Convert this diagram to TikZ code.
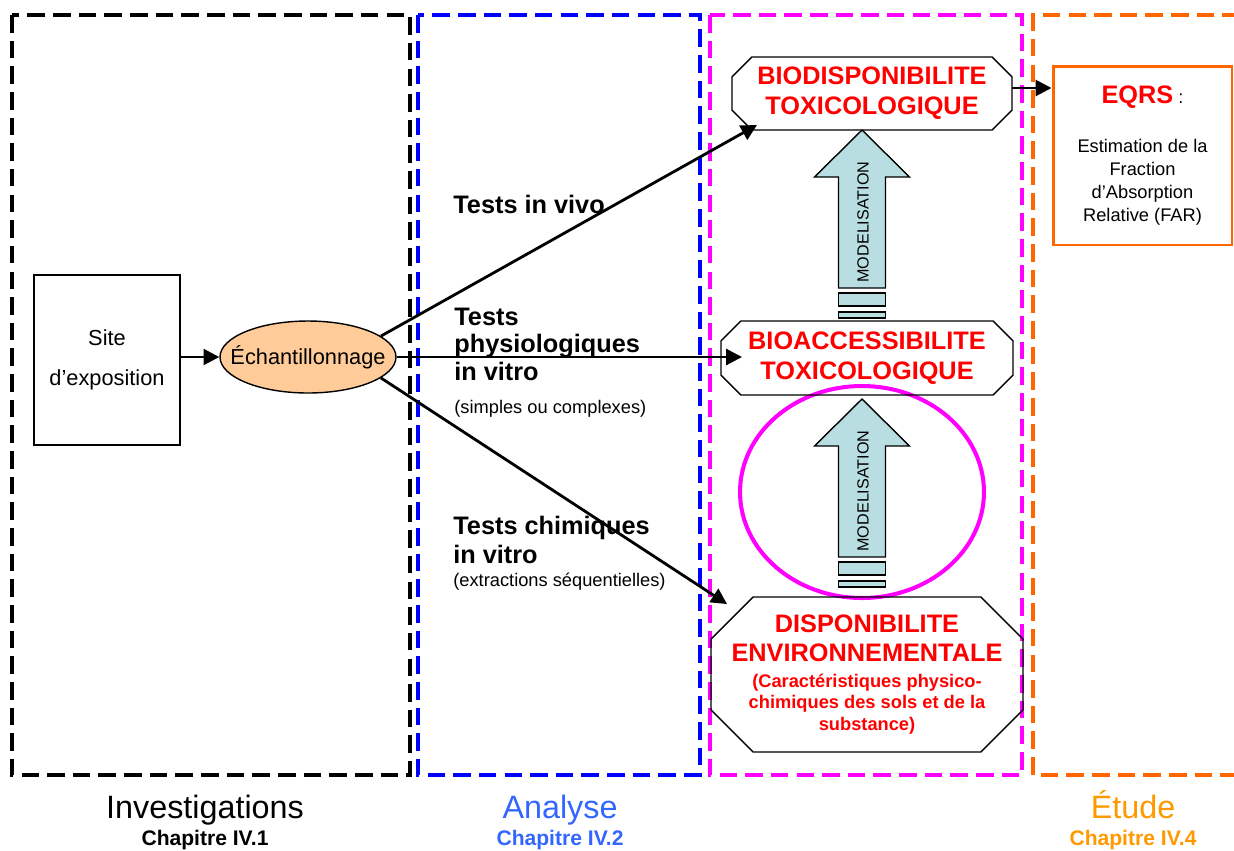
\documentclass[tikz,border=0pt]{standalone}
\usepackage{fontspec}
\setmainfont{Liberation Sans}
\usetikzlibrary{arrows.meta,shapes.geometric,calc}

\definecolor{zbleu}{RGB}{0,0,255}
\definecolor{zmagenta}{RGB}{255,0,255}
\definecolor{zorange}{RGB}{255,102,0}
\definecolor{tbleu}{RGB}{51,102,255}
\definecolor{torange}{RGB}{255,153,0}
\definecolor{peche}{RGB}{255,204,153}
\definecolor{modbleu}{RGB}{185,222,226}

\newcommand{\grand}{\fontsize{14.4}{17}\selectfont\bfseries}
\newcommand{\petit}{\fontsize{10.4}{13}\selectfont}

% contour octogonal autour d'un noeud
\newcommand{\octo}[2]{%
  \draw[line width=0.8pt] ([xshift=#2]#1.north west) -- ([xshift=-#2]#1.north east)
    -- ([yshift=-#2]#1.north east) -- ([yshift=#2]#1.south east)
    -- ([xshift=-#2]#1.south east) -- ([xshift=#2]#1.south west)
    -- ([yshift=#2]#1.south west) -- ([yshift=-#2]#1.north west) -- cycle;}

% grosse fleche MODELISATION (pointe en #2)
\newcommand{\modele}[2]{%
  \begin{scope}[shift={(#2)}, line width=0.8pt]
    \draw[fill=modbleu] (0,0) -- (47.5,47) -- (23.5,47) -- (23.5,158)
      -- (-23.5,158) -- (-23.5,47) -- (-47.5,47) -- cycle;
    \draw[fill=modbleu] (-23.5,163) rectangle (23.5,176);
    \draw[fill=modbleu] (-23.5,182) rectangle (23.5,188);
    \node[rotate=90, font=\fontsize{9.2}{11}\selectfont] (#1) at (1,92) {MODELISATION};
  \end{scope}}

\begin{document}
\begin{tikzpicture}[x=0.02cm, y=-0.02cm, >={Triangle[length=9pt,width=9pt]},
    zone/.style={line width=2.3pt, dash pattern=on 10pt off 4.6pt},
    flux/.style={->, line width=1.6pt},
    titre/.style={text=red, font=\grand, align=center, outer sep=0pt},
    test/.style={anchor=base west, align=left, font=\grand, inner sep=0pt}]

    \useasboundingbox (0,0) rectangle (1234,850);

    % zones
    \draw[zone] (12,15) rectangle (410,775);
    \draw[zone, zbleu] (418,15) rectangle (700,775);
    \draw[zone, zmagenta] (710,15) rectangle (1022,775);
    \draw[zone, zorange] (1240,15) -- (1033,15) -- (1033,775) -- (1240,775);

    % titres des zones
    \node[anchor=base, font=\fontsize{18.4}{22}\selectfont] (inv) at (205,818) {Investigations};
    \node[anchor=base, font=\fontsize{12}{14}\selectfont\bfseries] (invch) at (205,845) {Chapitre IV.1};
    \node[anchor=base, text=tbleu, font=\fontsize{18.4}{22}\selectfont] (ana) at (560,818) {Analyse};
    \node[anchor=base, text=tbleu, font=\fontsize{12}{14}\selectfont\bfseries] (anach) at (560,845) {Chapitre IV.2};
    \node[anchor=base, text=torange, font=\fontsize{18.4}{22}\selectfont] (etu) at (1133,818) {Étude};
    \node[anchor=base, text=torange, font=\fontsize{12}{14}\selectfont\bfseries] (etuch) at (1133,845) {Chapitre IV.4};

    % ellipse magenta
    \draw[zmagenta, line width=2.3pt] (862,492) ellipse [x radius=2.44cm, y radius=2.12cm];

    % noeuds
    \node[draw, line width=0.8pt, minimum width=2.92cm, minimum height=3.4cm, align=center,
          font=\fontsize{12.4}{22.7}\selectfont] (site) at (107,360) {Site\\d’exposition};
    \node[draw, ellipse, fill=peche, line width=0.8pt, minimum width=3.52cm, minimum height=1.44cm,
          inner xsep=-0.32cm, inner ysep=0pt, font=\fontsize{12.4}{15}\selectfont] (ech) at (308,357) {Échantillonnage};
    \node[titre, minimum width=5.6cm, minimum height=1.46cm] (bio) at (872,93.5)
          {BIODISPONIBILITE\\TOXICOLOGIQUE};
    \node[titre, minimum width=5.84cm, minimum height=1.48cm] (bac) at (867,358)
          {BIOACCESSIBILITE\\TOXICOLOGIQUE};
    \node[titre, minimum width=6.24cm, minimum height=3.1cm] (dis) at (867,674.5)
          {DISPONIBILITE\\ENVIRONNEMENTALE\\[-2.3pt]\petit (Caractéristiques physico-\\[-5pt]
           \petit chimiques des sols et de la\\[-4.5pt]\petit substance)};
    \octo{bio}{11.3pt}
    \octo{bac}{11.3pt}
    \octo{dis}{24pt}
    \node[draw=zorange, line width=1.7pt, minimum width=3.58cm, minimum height=3.58cm,
          align=center, font=\petit] (far) at (1142.5,155.5)
          {{\grand\textcolor{red}{EQRS}} :\\[14.8pt]Estimation de la\\Fraction\\d’Absorption\\Relative (FAR)};

    % modelisation
    \modele{mod1}{862,130}
    \modele{mod2}{862,399}

    % fleches
    \draw[flux] (site.east |- ech.west) -- (ech.west);
    \draw[flux] (ech.16) -- ($(bio.south west)+(25,-5)$);
    \draw[flux] (ech.east) -- ($(bac.west |- ech.east)+(21,0)$);
    \draw[flux] (ech.-16) -- ($(dis.north west)+(16,7)$);
    \draw[flux] (bio.east |- 0,88) -- (far.west |- 0,88);

    % types de tests
    \node[test] (vivo) at (453,213) {Tests in vivo};
    \node[test] (physio) at (454,413) {Tests\\[-1.5pt]physiologiques\\[-1.5pt]in vitro\\[1.7pt]\petit\mdseries (simples ou complexes)};
    \node[test] (chim) at (453,586) {Tests chimiques\\[-0.6pt]in vitro\\[-4pt]\petit\mdseries (extractions séquentielles)};
\end{tikzpicture}
\end{document}
